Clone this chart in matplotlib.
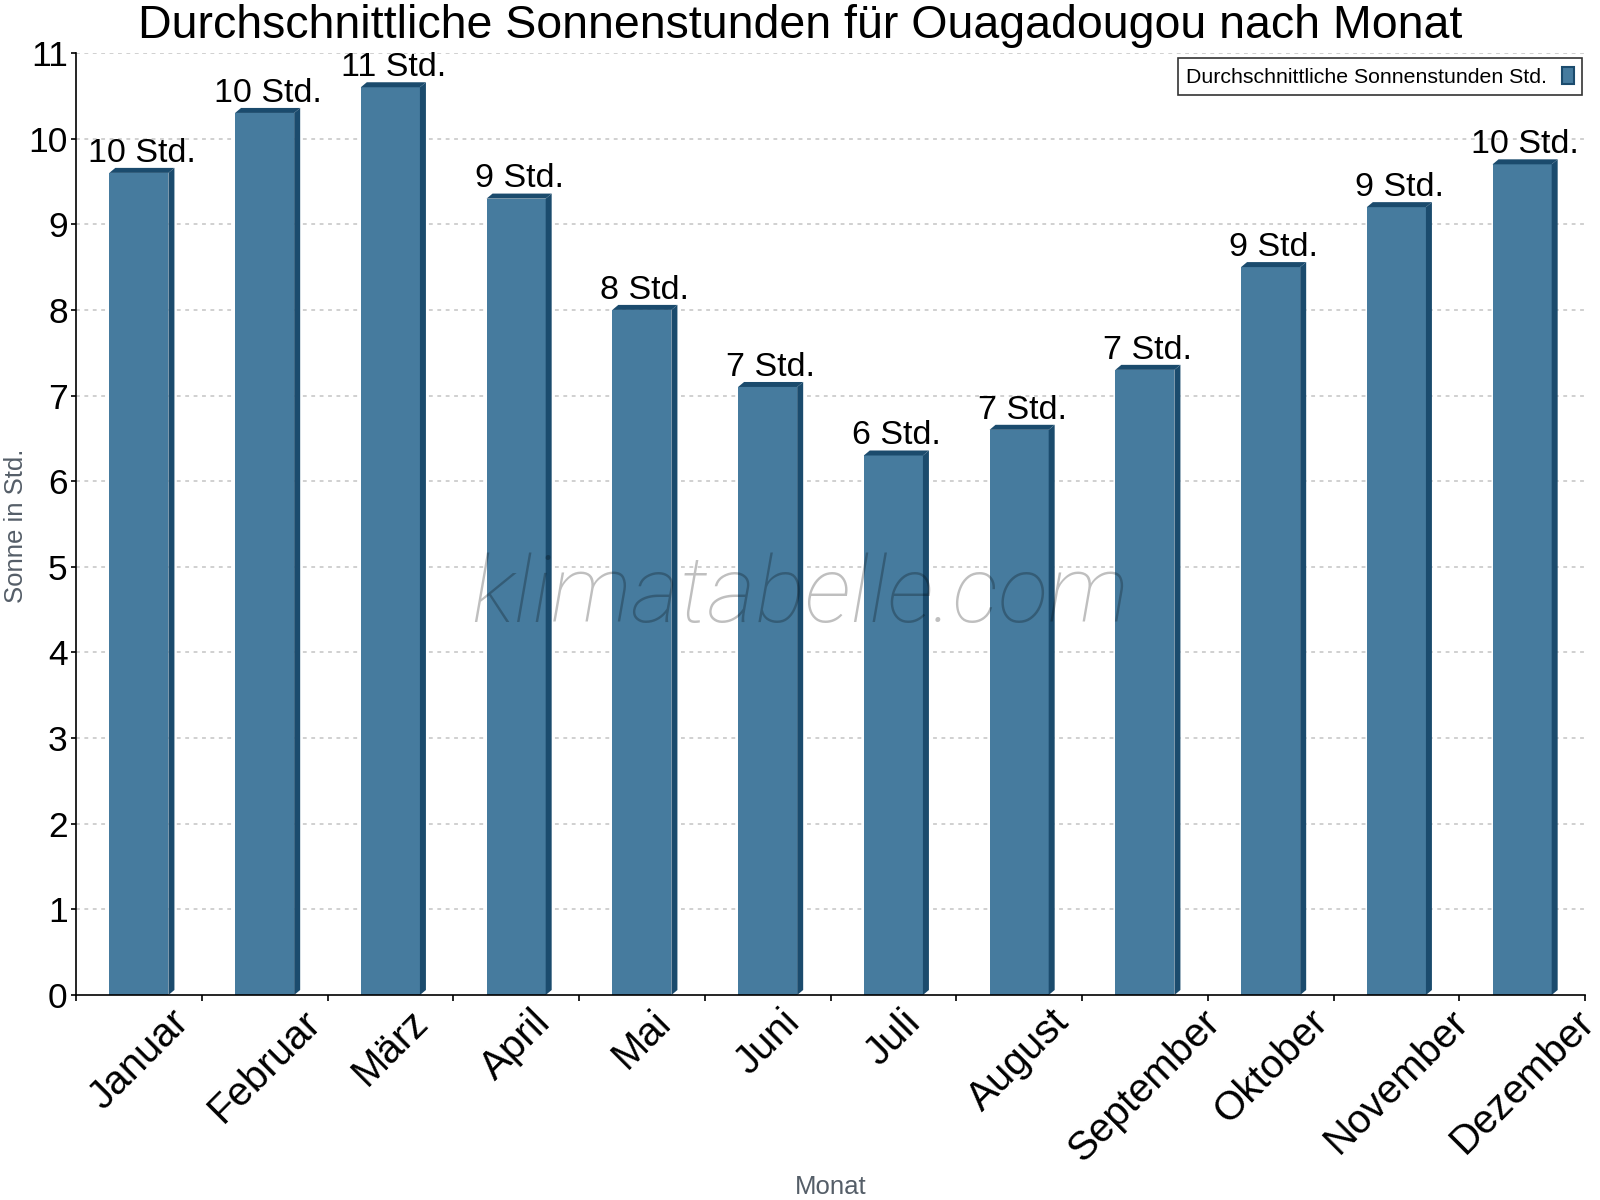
import matplotlib
matplotlib.use("Agg")
import matplotlib.pyplot as plt
from matplotlib.patches import Polygon, Patch
from matplotlib.ticker import FixedLocator, NullFormatter, FixedFormatter

months = ["Januar", "Februar", "März", "April", "Mai", "Juni", "Juli",
          "August", "September", "Oktober", "November", "Dezember"]
sun_hours = [9.6, 10.3, 10.6, 9.3, 8.0, 7.1, 6.3, 6.6, 7.3, 8.5, 9.2, 9.7]
y_ticks = list(range(0, 12))

title = "Durchschnittliche Sonnenstunden für Ouagadougou nach Monat"
legend_label = "Durchschnittliche Sonnenstunden Std."
y_label = "Sonne in Std."
x_label = "Monat"
watermark = "klimatabelle.com"

FRONT = "#467b9e"
DARK = "#1b4b6d"

plt.rcParams['font.family'] = ['Liberation Sans', 'DejaVu Sans']

fig = plt.figure(figsize=(16, 12), dpi=100)
L, R, B, T = 76/1600, 1585/1600, 1 - 995/1200, 1 - 53/1200
ax = fig.add_axes([L, B, R - L, T - B])

n = len(months)
xs = list(range(n))
w = 0.47
dx = 6 / 125.75
dy = 5 / 85.6

ax.set_xlim(-0.5, n - 0.5)
ax.set_ylim(0, 11)

# grid
for yt in y_ticks[1:]:
    ax.axhline(yt, color="#c4c4c4", lw=1.1, ls=(0, (2.5, 3)), zorder=0)

ax.bar(xs, sun_hours, width=w, color=FRONT, zorder=2, linewidth=0)
for x, v in zip(xs, sun_hours):
    l, r = x - w/2, x + w/2
    side = Polygon([(r, 0), (r + dx, dy), (r + dx, v + dy), (r, v)],
                   closed=True, facecolor=DARK, edgecolor='none', zorder=2)
    top = Polygon([(l, v), (l + dx, v + dy), (r + dx, v + dy), (r, v)],
                  closed=True, facecolor=DARK, edgecolor='none', zorder=2)
    ax.add_patch(side)
    ax.add_patch(top)
    ax.annotate(f"{int(v + 0.5)} Std.", xy=(x + dx/2, v + dy), xytext=(0, 4.5),
                textcoords="offset points", ha="center", va="baseline",
                fontsize=24.5, color="black", zorder=5)

# spines
for s in ["top", "right"]:
    ax.spines[s].set_visible(False)
ax.spines["left"].set_linewidth(1.2)
ax.spines["bottom"].set_linewidth(1.2)

ax.set_yticks(y_ticks)
ax.tick_params(axis='y', labelsize=25.5, length=3.5, width=1.2, pad=2.5, direction='out')

bounds = [i - 0.5 for i in range(n + 1)]
ax.xaxis.set_major_locator(FixedLocator(bounds))
ax.xaxis.set_major_formatter(NullFormatter())
ax.xaxis.set_minor_locator(FixedLocator(xs))
ax.xaxis.set_minor_formatter(FixedFormatter(months))
ax.tick_params(axis='x', which='major', length=4, width=1.2, direction='out')
ax.tick_params(axis='x', which='minor', length=0, pad=5.5, labelsize=29)
for lab in ax.xaxis.get_minorticklabels():
    lab.set_rotation(45)
    lab.set_ha('center')

# labels
fig.text(16/1600, 1 - 526/1200, y_label, rotation=90, ha='center', va='center',
         fontsize=18.5, color="#555e68")
fig.text((L + R)/2, 1 - 1194/1200, x_label, ha='center', va='baseline',
         fontsize=18.5, color="#555e68")
fig.text(0.5, 1 - 4/1200, title, ha='center', va='top', fontsize=33.5, color='black')

# watermark
fig.text(0.5, 1 - 597/1200, watermark,
         ha='center', va='center', fontsize=67, family='Roboto', style='italic',
         weight='light', color='black', alpha=0.25, zorder=6)

# legend
handle = Patch(facecolor=FRONT, edgecolor=DARK, linewidth=1.5)
leg = fig.legend([handle], [legend_label], loc='upper right',
                 bbox_to_anchor=(1582/1600, 1 - 58/1200), fontsize=15.3,
                 frameon=True, fancybox=False, markerfirst=False,
                 handlelength=0.55, handleheight=0.9, borderaxespad=0,
                 borderpad=0.4, handletextpad=0.7)
leg.get_frame().set_edgecolor('black')
leg.get_frame().set_linewidth(1.2)

fig.savefig("out.png", dpi=100)
